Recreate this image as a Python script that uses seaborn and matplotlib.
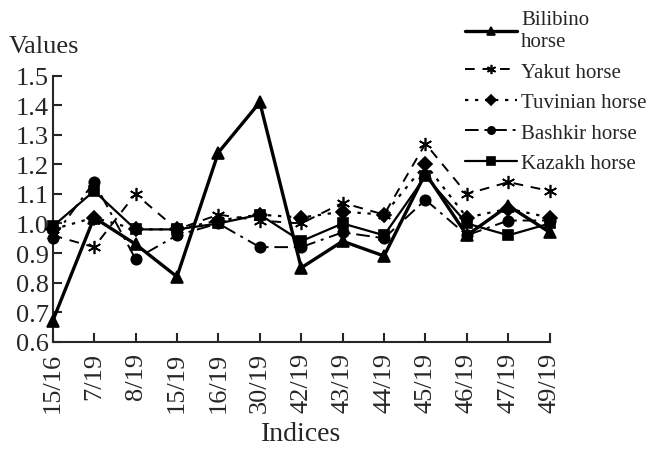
import matplotlib
matplotlib.use("Agg")
import matplotlib.pyplot as plt
import numpy as np
import seaborn as sns

INDICES = ["15/16", "7/19", "8/19", "15/19", "16/19", "30/19", "42/19",
           "43/19", "44/19", "45/19", "46/19", "47/19", "49/19"]

BILIBINO = [0.67, 1.02, 0.93, 0.82, 1.24, 1.41, 0.85, 0.94, 0.89, 1.17, 0.96, 1.06, 0.97]
YAKUT = [0.96, 0.92, 1.10, 0.98, 1.03, 1.01, 1.00, 1.07, 1.03, 1.27, 1.10, 1.14, 1.11]
TUVINIAN = [0.98, 1.02, 0.98, 0.98, 1.01, 1.03, 1.02, 1.04, 1.03, 1.20, 1.02, 1.05, 1.02]
BASHKIR = [0.95, 1.14, 0.88, 0.96, 1.00, 0.92, 0.92, 0.97, 0.95, 1.08, 0.96, 1.01, 1.01]
KAZAKH = [0.99, 1.11, 0.98, 0.98, 1.00, 1.03, 0.94, 1.00, 0.96, 1.16, 1.00, 0.96, 1.00]

# (label, values, linestyle, linewidth, marker, markersize)
SERIES = [
    ("Bilibino\nhorse", BILIBINO, "-", 2.4, "^", 8.5),
    ("Yakut horse", YAKUT, (0, (5, 4)), 1.4, (6, 2, 0), 9.5),
    ("Tuvinian horse", TUVINIAN, (0, (1.5, 3)), 1.6, "D", 7.5),
    ("Bashkir horse", BASHKIR, (0, (7, 3, 1.5, 3)), 1.4, "o", 7.5),
    ("Kazakh horse", KAZAKH, "-", 1.6, "s", 7.5),
]

sns.set_style("ticks")
plt.rcParams["font.family"] = ["Liberation Serif", "DejaVu Serif"]

fig = plt.figure(figsize=(6.56, 4.52), dpi=100)
ax = fig.add_axes([0.0803, 0.2418, 0.7577, 0.5885])

x = np.arange(len(INDICES))
for label, values, ls, lw, marker, ms in SERIES:
    sns.lineplot(x=x, y=values, ax=ax, color="black", linestyle=ls, linewidth=lw,
                 marker=marker, markersize=ms, markeredgecolor="black",
                 markeredgewidth=1.2, label=label, clip_on=False, zorder=3)

ax.set_xlim(0, len(INDICES) - 1)
ax.set_ylim(0.6, 1.5)
ax.set_yticks(np.arange(0.6, 1.51, 0.1))
ax.set_yticklabels([f"{v:.1f}" for v in np.arange(0.6, 1.51, 0.1)])
ax.set_xticks(x)
ax.set_xticklabels(INDICES, rotation=90)
ax.tick_params(direction="in", length=6.5, width=1.5, labelsize=19, pad=3)
ax.tick_params(axis="x", labelsize=19, pad=7)
sns.despine(ax=ax)
for side in ("left", "bottom"):
    ax.spines[side].set_linewidth(1.5)

ax.set_xlabel("Indices", fontsize=20, labelpad=7)
ax.set_ylabel("Values", fontsize=19, rotation=0, ha="left", va="center")
ax.yaxis.set_label_coords(-0.088, 1.11)

handles, labels = ax.get_legend_handles_labels()
ax.legend_.remove()
fig.legend(handles, labels, loc="upper right", bbox_to_anchor=(1.003, 1.0),
           frameon=False, fontsize=15, handlelength=2.5, handletextpad=0.2,
           labelspacing=0.52, borderaxespad=0.15, markerscale=0.7)

fig.savefig("out.png", dpi=100)
